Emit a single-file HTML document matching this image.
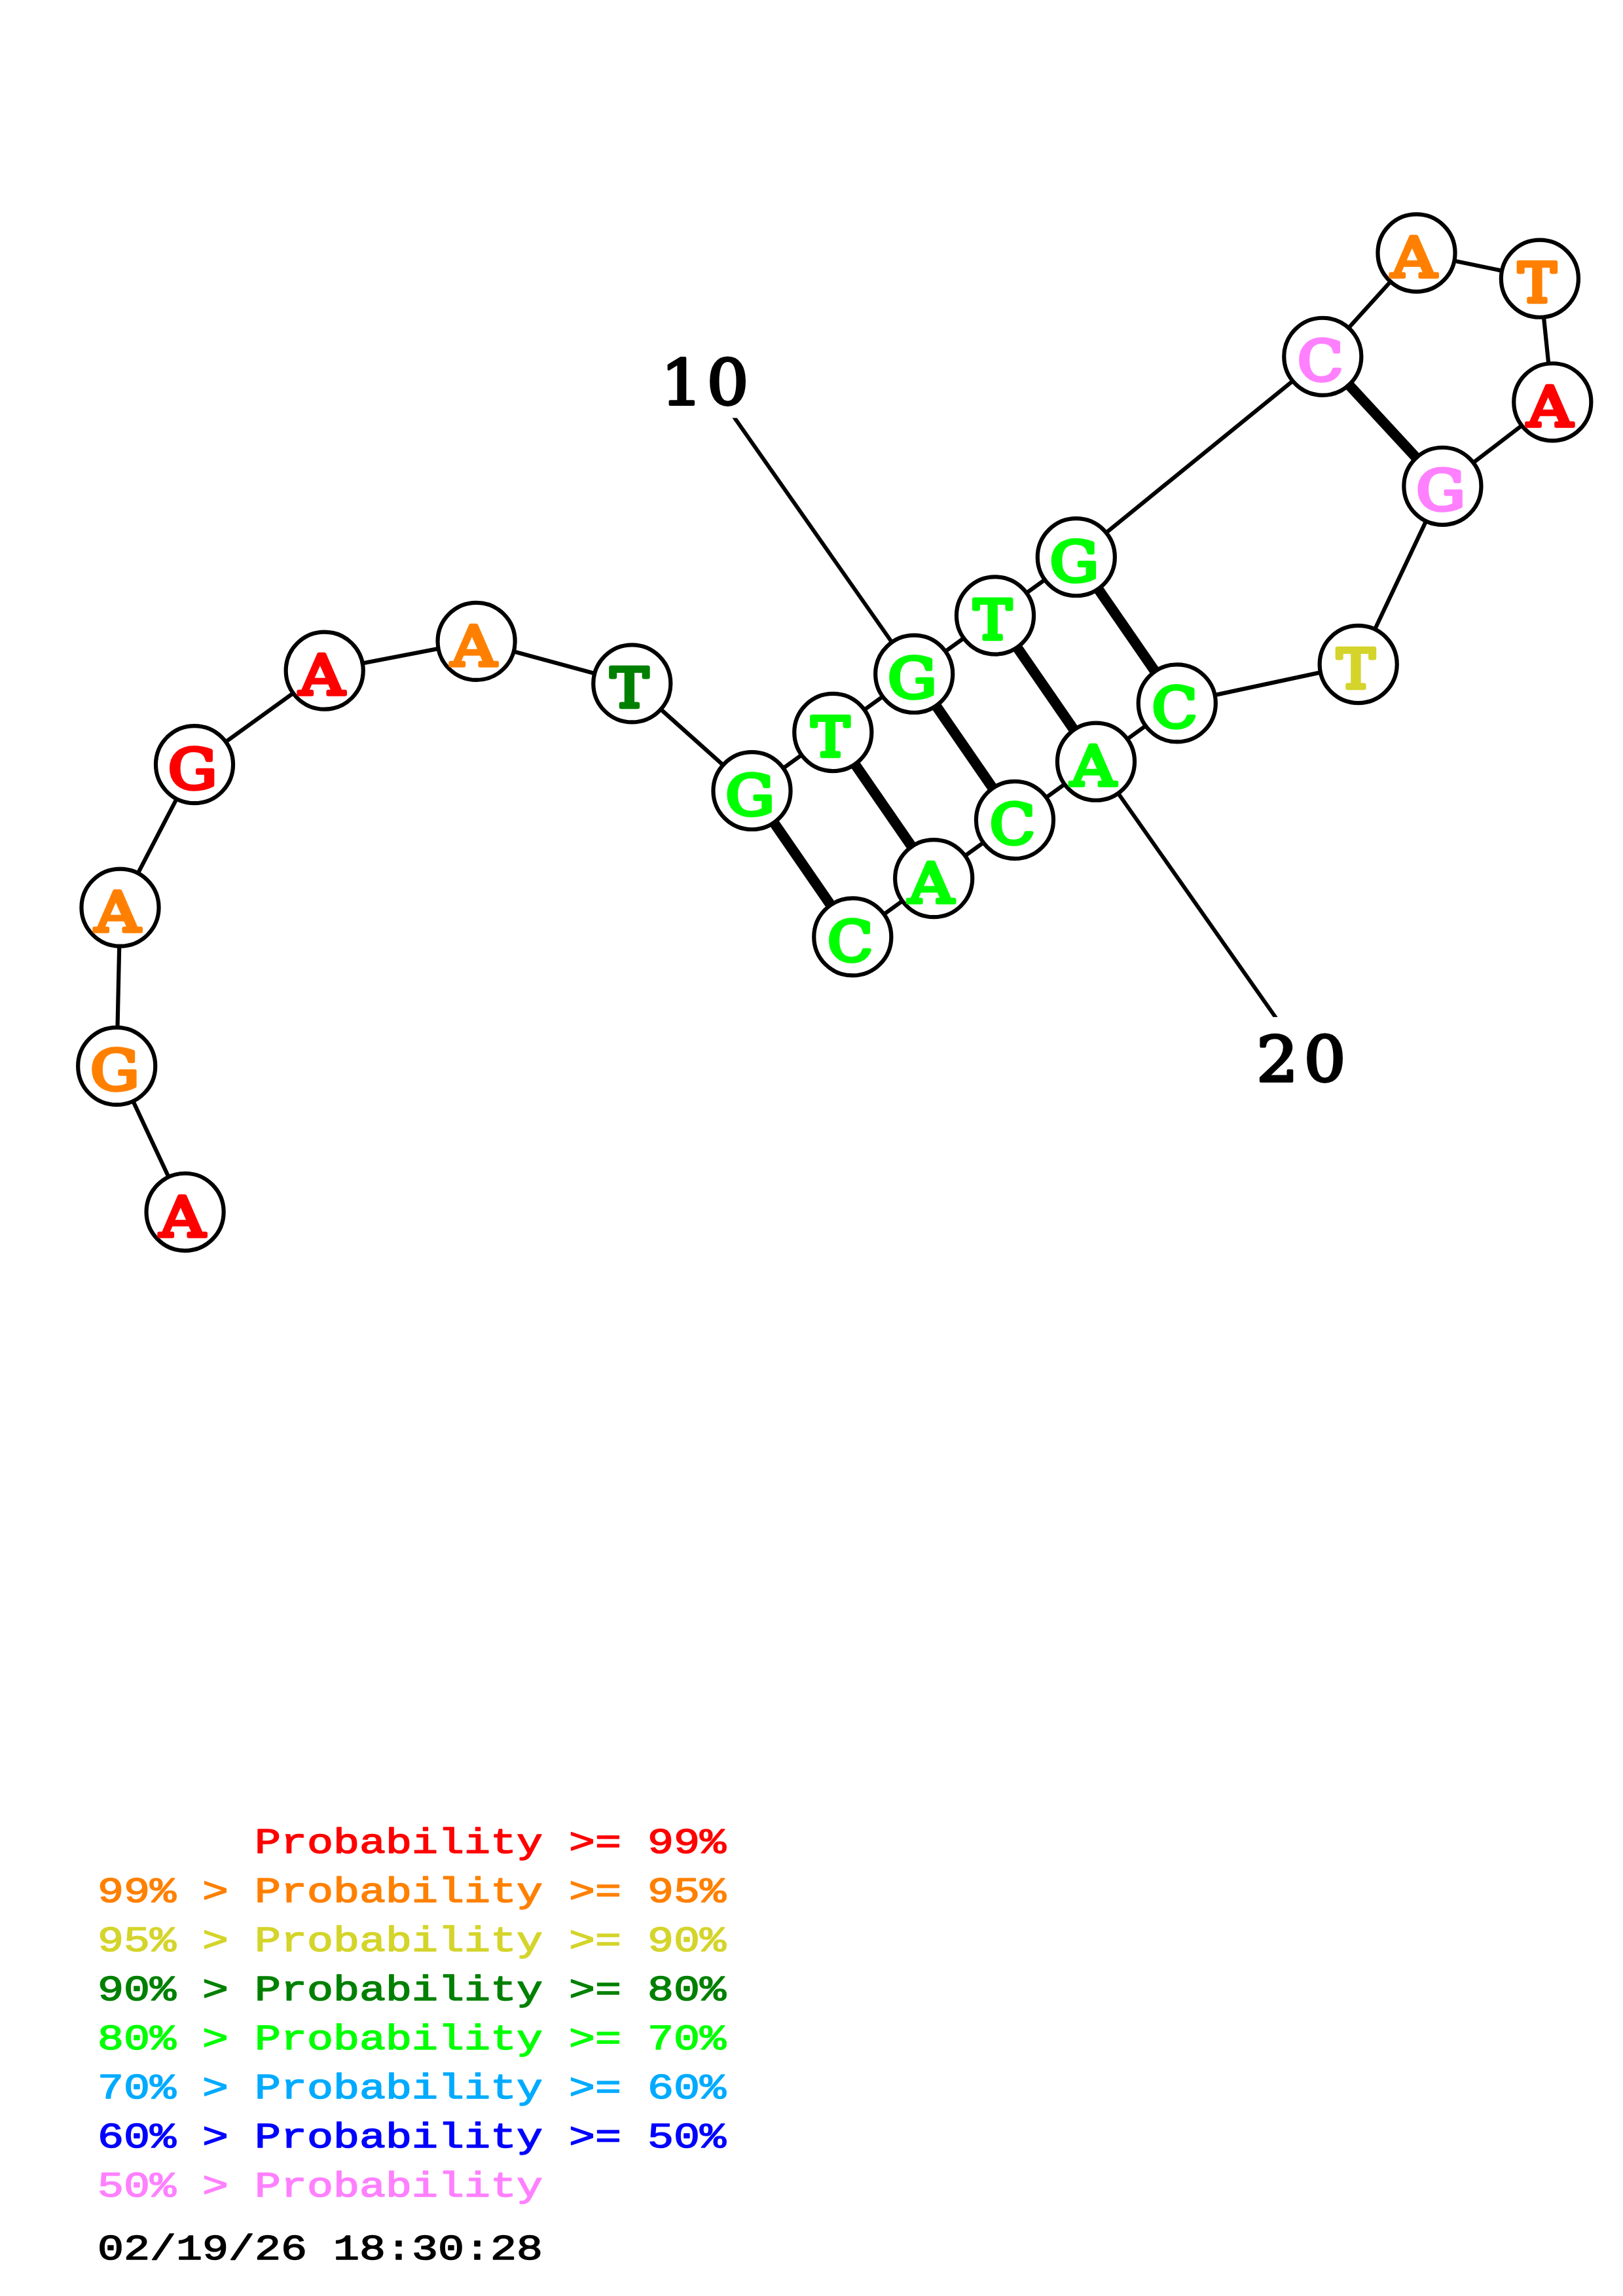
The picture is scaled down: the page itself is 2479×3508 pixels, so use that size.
<!DOCTYPE html>
<html lang="en">
<head>
<meta charset="utf-8">
<title>Structure probability plot</title>
<style>
html,body{margin:0;padding:0;background:#fff;}
body{width:2479px;height:3508px;overflow:hidden;}
svg{display:block;}
.bb{stroke:#000;stroke-width:6.20;stroke-linecap:butt;stroke-linejoin:round;fill:none;}
.pr{stroke:#000;stroke-width:15.80;stroke-linecap:butt;fill:none;}
.ll{stroke:#000;stroke-width:6.00;stroke-linecap:butt;fill:none;}
.c{fill:#fff;stroke:#000;stroke-width:6.20;}
.n{font-family:"DejaVu Serif","Liberation Serif",serif;font-weight:normal;text-anchor:middle;stroke-linejoin:round;stroke-linecap:round;}
.num{font-family:"DejaVu Serif","Liberation Serif",serif;font-weight:normal;font-size:95.2px;text-anchor:start;fill:#000;stroke:#000;stroke-width:3.8;stroke-linejoin:round;stroke-linecap:round;}
.lg{font-family:"Liberation Mono","DejaVu Sans Mono",monospace;font-weight:normal;font-size:54.0px;white-space:pre;stroke-width:1.5;stroke-linejoin:round;stroke-linecap:round;}
.nA{font-size:84.22px;stroke-width:5.50;}
.nC{font-size:83.60px;stroke-width:5.50;}
.nG{font-size:83.86px;stroke-width:5.50;}
.nT{font-size:81.48px;stroke-width:6.50;}
.red{fill:#ff0000;stroke:#ff0000;}
.org{fill:#ff8000;stroke:#ff8000;}
.yel{fill:#d4d42b;stroke:#d4d42b;}
.dgr{fill:#008000;stroke:#008000;}
.grn{fill:#00ff00;stroke:#00ff00;}
.lbl{fill:#00abff;stroke:#00abff;}
.blu{fill:#0000ff;stroke:#0000ff;}
.pnk{fill:#ff80ff;stroke:#ff80ff;}
.blk{fill:#000;stroke:#000;}
</style>
</head>
<body>
<svg width="2479" height="3508" viewBox="0 0 2479 3508">
<rect x="0" y="0" width="2479" height="3508" fill="#ffffff"/>
<g class="ll">
<line x1="1396.2" y1="1029.7" x2="1117.5" y2="632.0"/>
<line x1="1674.0" y1="1163.7" x2="1952.6" y2="1560.4"/>
</g>
<rect x="1090" y="622" width="64" height="16.6" fill="#fff"/>
<rect x="1916" y="1553.9" width="64" height="16" fill="#fff"/>
<polyline class="bb" points="282.6,1851.8 178.2,1628.9 183.5,1386.6 297.0,1168.1 495.7,1024.6 727.6,979.9 965.3,1044.4 1148.5,1208.2 1272.3,1119.0 1396.2,1029.7 1520.0,940.5 1643.8,851.2 2020.3,544.8 2163.5,386.5 2351.9,425.7 2371.3,614.3 2203.4,742.8 2074.7,1015.0 1797.8,1074.4 1674.0,1163.7 1550.0,1252.9 1426.2,1342.1 1302.3,1431.4"/>
<g class="pr">
<line x1="1148.5" y1="1208.2" x2="1302.3" y2="1431.4"/>
<line x1="1272.3" y1="1119.0" x2="1426.2" y2="1342.1"/>
<line x1="1396.2" y1="1029.7" x2="1550.0" y2="1252.9"/>
<line x1="1520.0" y1="940.5" x2="1674.0" y2="1163.7"/>
<line x1="1643.8" y1="851.2" x2="1797.8" y2="1074.4"/>
<line x1="2020.3" y1="544.8" x2="2203.4" y2="742.8"/>
</g>
<circle class="c" cx="282.6" cy="1851.8" r="59.05"/><text class="n nA red" transform="translate(278.7 1888.5) scale(1.134 1)" x="-0.2" y="0">A</text>
<circle class="c" cx="178.2" cy="1628.9" r="59.05"/><text class="n nG org" transform="translate(174.3 1665.4) scale(1.118 1)" x="1.0" y="0">G</text>
<circle class="c" cx="183.5" cy="1386.6" r="59.05"/><text class="n nA org" transform="translate(179.6 1423.3) scale(1.134 1)" x="-0.2" y="0">A</text>
<circle class="c" cx="297.0" cy="1168.1" r="59.05"/><text class="n nG red" transform="translate(293.1 1204.6) scale(1.118 1)" x="1.0" y="0">G</text>
<circle class="c" cx="495.7" cy="1024.6" r="59.05"/><text class="n nA red" transform="translate(491.8 1061.3) scale(1.134 1)" x="-0.2" y="0">A</text>
<circle class="c" cx="727.6" cy="979.9" r="59.05"/><text class="n nA org" transform="translate(723.7 1016.6) scale(1.134 1)" x="-0.2" y="0">A</text>
<circle class="c" cx="965.3" cy="1044.4" r="59.05"/><text class="n nT dgr" transform="translate(961.4 1080.1) scale(1.055 1)" x="-0.0" y="0">T</text>
<circle class="c" cx="1148.5" cy="1208.2" r="59.05"/><text class="n nG grn" transform="translate(1144.6 1244.7) scale(1.118 1)" x="1.0" y="0">G</text>
<circle class="c" cx="1272.3" cy="1119.0" r="59.05"/><text class="n nT grn" transform="translate(1268.4 1154.7) scale(1.055 1)" x="-0.0" y="0">T</text>
<circle class="c" cx="1396.2" cy="1029.7" r="59.05"/><text class="n nG grn" transform="translate(1392.2 1066.2) scale(1.118 1)" x="1.0" y="0">G</text>
<circle class="c" cx="1520.0" cy="940.5" r="59.05"/><text class="n nT grn" transform="translate(1516.1 976.2) scale(1.055 1)" x="-0.0" y="0">T</text>
<circle class="c" cx="1643.8" cy="851.2" r="59.05"/><text class="n nG grn" transform="translate(1639.9 887.7) scale(1.118 1)" x="1.0" y="0">G</text>
<circle class="c" cx="2020.3" cy="544.8" r="59.05"/><text class="n nC pnk" transform="translate(2016.4 581.2) scale(1.083 1)" x="0.2" y="0">C</text>
<circle class="c" cx="2163.5" cy="386.5" r="59.05"/><text class="n nA org" transform="translate(2159.6 423.2) scale(1.134 1)" x="-0.2" y="0">A</text>
<circle class="c" cx="2351.9" cy="425.7" r="59.05"/><text class="n nT org" transform="translate(2348.0 461.4) scale(1.055 1)" x="-0.0" y="0">T</text>
<circle class="c" cx="2371.3" cy="614.3" r="59.05"/><text class="n nA red" transform="translate(2367.4 651.0) scale(1.134 1)" x="-0.2" y="0">A</text>
<circle class="c" cx="2203.4" cy="742.8" r="59.05"/><text class="n nG pnk" transform="translate(2199.5 779.3) scale(1.118 1)" x="1.0" y="0">G</text>
<circle class="c" cx="2074.7" cy="1015.0" r="59.05"/><text class="n nT yel" transform="translate(2070.8 1050.7) scale(1.055 1)" x="-0.0" y="0">T</text>
<circle class="c" cx="1797.8" cy="1074.4" r="59.05"/><text class="n nC grn" transform="translate(1793.9 1110.8) scale(1.083 1)" x="0.2" y="0">C</text>
<circle class="c" cx="1674.0" cy="1163.7" r="59.05"/><text class="n nA grn" transform="translate(1670.0 1200.4) scale(1.134 1)" x="-0.2" y="0">A</text>
<circle class="c" cx="1550.0" cy="1252.9" r="59.05"/><text class="n nC grn" transform="translate(1546.1 1289.3) scale(1.083 1)" x="0.2" y="0">C</text>
<circle class="c" cx="1426.2" cy="1342.1" r="59.05"/><text class="n nA grn" transform="translate(1422.3 1378.8) scale(1.134 1)" x="-0.2" y="0">A</text>
<circle class="c" cx="1302.3" cy="1431.4" r="59.05"/><text class="n nC grn" transform="translate(1298.4 1467.8) scale(1.083 1)" x="0.2" y="0">C</text>
<text class="num" transform="scale(1.060 1)" x="952.1 1018.5" y="617.8">10</text>
<text class="num" transform="scale(1.060 1)" x="1810.3 1878.9" y="1652.5">20</text>
<g transform="translate(149 0) scale(1.2346 1)">
<text class="lg red" x="194.4" y="2831.4" xml:space="preserve">Probability &gt;= 99%</text>
<text class="lg org" x="0.0" y="2906.4" xml:space="preserve">99% &gt; Probability &gt;= 95%</text>
<text class="lg yel" x="0.0" y="2981.4" xml:space="preserve">95% &gt; Probability &gt;= 90%</text>
<text class="lg dgr" x="0.0" y="3056.4" xml:space="preserve">90% &gt; Probability &gt;= 80%</text>
<text class="lg grn" x="0.0" y="3131.4" xml:space="preserve">80% &gt; Probability &gt;= 70%</text>
<text class="lg lbl" x="0.0" y="3206.4" xml:space="preserve">70% &gt; Probability &gt;= 60%</text>
<text class="lg blu" x="0.0" y="3281.4" xml:space="preserve">60% &gt; Probability &gt;= 50%</text>
<text class="lg pnk" x="0.0" y="3356.4" xml:space="preserve">50% &gt; Probability</text>
<text class="lg blk" x="0.0" y="3452.4" xml:space="preserve">02/19/26 18:30:28</text>
</g>
</svg>
</body>
</html>
